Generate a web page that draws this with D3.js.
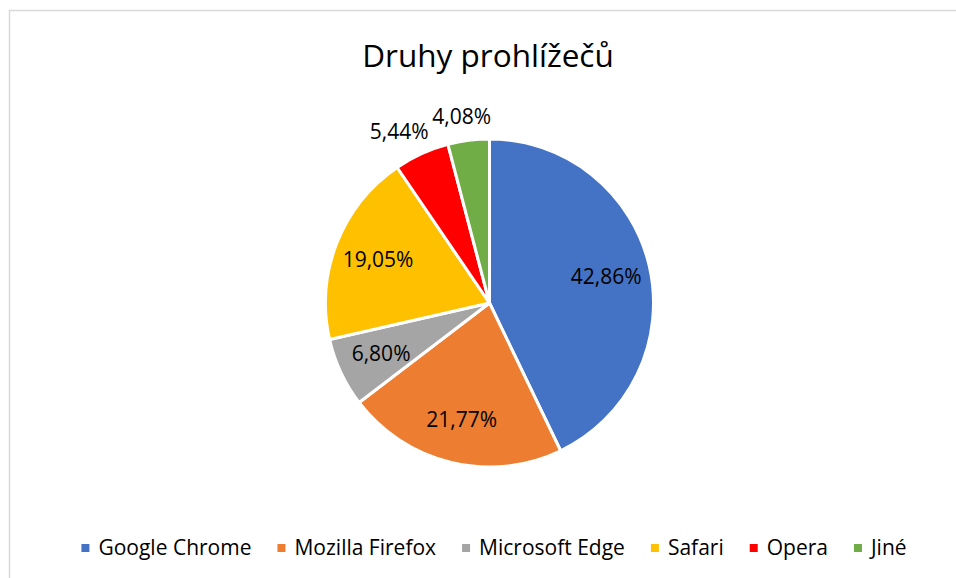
<!DOCTYPE html>
<html>
<head>
<meta charset="utf-8">
<script src="https://cdn.jsdelivr.net/npm/d3@7"></script>
<style>
  body { margin: 0; background: #fff; }
  svg { font-family: "Open Sans", "Noto Sans", sans-serif; }
</style>
</head>
<body>
<div id="chart"></div>
<script>
var browsers = ["Google Chrome", "Mozilla Firefox", "Microsoft Edge", "Safari", "Opera", "Jiné"]
var shares = [42.86, 21.77, 6.80, 19.05, 5.44, 4.08]
var colors = ["#4472c4", "#ed7d31", "#a5a5a5", "#ffc000", "#ff0000", "#70ad47"]
var title = "Druhy prohlížečů"

var svgWidth = 956
var svgHeight = 578

var svg = d3.select("#chart")
    .append("svg")
    .attr("width", svgWidth)
    .attr("height", svgHeight)

// chart frame (only top/left edges fall inside the picture)
svg.append("rect")
    .attr("x", 9.5)
    .attr("y", 10.5)
    .attr("width", 980)
    .attr("height", 600)
    .attr("fill", "#fff")
    .attr("stroke", "#d9d9d9")
    .attr("stroke-width", 1.5)

svg.append("text")
    .attr("x", 488)
    .attr("y", 67)
    .attr("text-anchor", "middle")
    .attr("font-size", "31.5px")
    .attr("fill", "#000")
    .text(title)

var cx = 489.5, cy = 303, radius = 164

var data = browsers.map((b, i) => ({name: b, value: shares[i], color: colors[i]}))

var pie = d3.pie().sort(null).value(d => d.value)
var arc = d3.arc().innerRadius(0).outerRadius(radius)

var pieG = svg.append("g")
    .attr("transform", `translate(${cx},${cy})`)

var arcs = pie(data)

pieG.selectAll("path")
    .data(arcs)
    .enter()
    .append("path")
    .attr("d", arc)
    .attr("fill", d => d.data.color)
    .attr("stroke", "#fff")
    .attr("stroke-width", 3)
    .attr("stroke-linejoin", "round")

var fmt = v => v.toFixed(2).replace(".", ",") + "%"

var inArc = d3.arc().innerRadius(radius * 0.73).outerRadius(radius * 0.73)
var outR = radius + 24

function labelPos(d) {
    if (d.data.value >= 6) return inArc.centroid(d)
    // small slices: label outside, pushed sideways by about half its width
    var a = (d.startAngle + d.endAngle) / 2
    var dx = Math.sin(a), dy = -Math.cos(a)
    return [dx * outR + dx * 30, dy * outR]
}

pieG.selectAll("text.lbl")
    .data(arcs)
    .enter()
    .append("text")
    .attr("class", "lbl")
    .attr("transform", d => {
        var p = labelPos(d)
        return `translate(${p[0]},${p[1]})`
    })
    .attr("text-anchor", "middle")
    .attr("dy", "0.35em")
    .attr("font-size", "21px")
    .attr("fill", "#000")
    .text(d => fmt(d.data.value))

// legend
var legendG = svg.append("g")
var items = legendG.selectAll("g")
    .data(data)
    .enter()
    .append("g")

items.append("rect")
    .attr("width", 8)
    .attr("height", 8)
    .attr("y", -4)
    .attr("fill", d => d.color)

items.append("text")
    .attr("x", 17)
    .attr("dy", "0.35em")
    .attr("font-size", "21px")
    .attr("fill", "#000")
    .text(d => d.name)

var xPos = 0
var gap = 26
items.each(function() {
    var w = this.getBBox().width
    d3.select(this).attr("transform", `translate(${xPos},0)`)
    xPos += w + gap
})
var total = xPos - gap
legendG.attr("transform", `translate(${494 - total / 2},548)`)
</script>
</body>
</html>
